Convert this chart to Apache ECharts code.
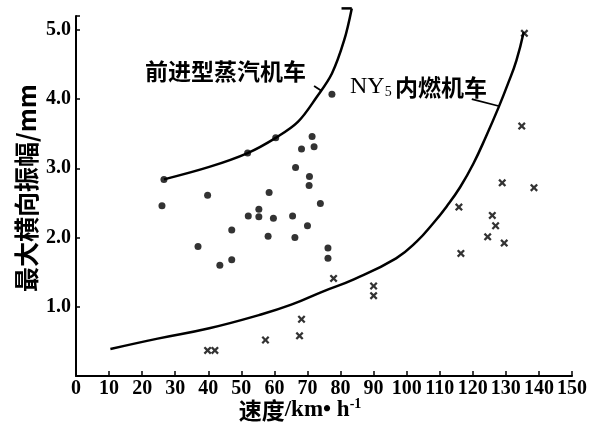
<!DOCTYPE html>
<html><head><meta charset="utf-8">
<script src="https://cdn.jsdelivr.net/npm/echarts@6/dist/echarts.min.js"></script>
<style>html,body{margin:0;padding:0;background:#fff;}#c{width:603px;height:427px;}</style>
</head><body><div id="c"></div>
<script>
// x ticks (km/h) and y ticks (mm)
const xTicks = [0,10,20,30,40,50,60,70,80,90,100,110,120,130,140,150];
const yTicks = [1.0,2.0,3.0,4.0,5.0];

// 前进型蒸汽机车 measured points [speed, amplitude]
const steamPoints = [[26.0,2.46],[39.8,2.61],[58.4,2.65],[66.4,3.01],[68.2,3.28],[71.4,3.46],[72.0,3.31],[70.6,2.88],[70.5,2.75],[73.9,2.49],[77.4,4.07],[36.9,1.87],[43.5,1.60],[47.1,2.11],[47.1,1.68],[52.1,2.31],[55.3,2.41],[55.3,2.30],[59.7,2.28],[58.1,2.02],[65.5,2.31],[66.2,2.00],[70.0,2.17],[76.2,1.85],[76.2,1.70],[26.6,2.84],[51.9,3.22],[60.4,3.44]];
// NY5 内燃机车 measured points
const dieselPoints = [[39.8,0.37],[42.0,0.37],[57.3,0.52],[67.6,0.58],[68.2,0.82],[77.9,1.41],[90.0,1.30],[90.0,1.16],[115.8,2.44],[116.4,1.77],[124.5,2.01],[125.9,2.32],[126.9,2.17],[128.9,2.79],[129.5,1.92],[134.8,3.61],[135.6,4.95],[138.5,2.72]];
// envelope curves
const steamCurve = [[26.6,2.84],[40.3,3.02],[51.9,3.22],[60.4,3.44],[67.1,3.67],[72.8,4.03],[77.4,4.37],[81.1,4.85],[83.4,5.31]];
const steamHook = [[80.3,5.31],[83.4,5.31]];
const dieselCurve = [[10.4,0.39],[24.7,0.54],[40.3,0.69],[55.3,0.88],[65.1,1.03],[74.6,1.22],[84.2,1.40],[96.8,1.70],[103.0,1.94],[108.1,2.21],[112.1,2.45],[116.2,2.73],[120.2,3.07],[124.0,3.46],[127.8,3.88],[130.7,4.23],[133.2,4.56],[135.4,4.97]];
// label leader ticks
const steamLeader = [[72.0,4.19],[74.2,4.12]];
const dieselLeader = [[119.7,4.00],[127.8,3.90]];

const chart = echarts.init(document.getElementById('c'));
const crossPath = 'path://M0,2 L2,0 L5,3 L8,0 L10,2 L7,5 L10,8 L8,10 L5,7 L2,10 L0,8 L3,5 Z';
function curve(data, w, sm){
  return {type:'line', data:data, smooth:sm||0.35, symbol:'none', clip:false, silent:true,
    lineStyle:{color:'#000', width:w||2.5}, z:2};
}
chart.setOption({
  backgroundColor:'#fff',
  animation:false,
  grid:{left:76, right:31, top:16, bottom:51},
  xAxis:{type:'value', min:0, max:150, interval:10,
    axisLine:{lineStyle:{color:'#000', width:2}},
    axisTick:{inside:true, length:5, lineStyle:{color:'#000', width:1.5}},
    splitLine:{show:false},
    axisLabel:{color:'#000', fontFamily:'Liberation Serif', fontWeight:'bold', fontSize:20, margin:3,
      formatter:function(v){return xTicks.indexOf(v)>=0 ? String(v) : '';}}
  },
  yAxis:{type:'value', min:0, max:5.2, interval:1,
    axisLine:{lineStyle:{color:'#000', width:2}},
    axisTick:{inside:true, length:4, lineStyle:{color:'#000', width:1.5}},
    splitLine:{show:false},
    axisLabel:{color:'#000', fontFamily:'Liberation Serif', fontWeight:'bold', fontSize:20, margin:5,
      showMinLabel:false,
      formatter:function(v){return yTicks.indexOf(v)>=0 ? v.toFixed(1) : '';}}
  },
  graphic:[
    {type:'text', left:145, top:60, style:{text:'前进型蒸汽机车', fill:'#000',
      font:'bold 23px "Noto Sans CJK SC"'}},
    {type:'text', left:350, top:75, style:{
      text:'{n|NY}{s|5} {c|内燃机车}',
      rich:{
        n:{fontFamily:'Liberation Serif', fontSize:24, color:'#000'},
        s:{fontFamily:'Liberation Serif', fontSize:14, color:'#000', padding:[10,0,0,0]},
        c:{fontFamily:'Noto Sans CJK SC', fontWeight:'bold', fontSize:23, color:'#000'}
      }}},
    {type:'text', x:26, y:188, rotation:Math.PI/2, style:{
      text:'最大横向振幅/mm', fill:'#000', align:'center', verticalAlign:'middle',
      font:'bold 25px "Noto Sans CJK SC"'}},
    {type:'text', x:300, y:410, style:{
      text:'{c|速度}{l|/km• h}{s|-1}', align:'center', verticalAlign:'middle',
      rich:{
        c:{fontFamily:'Noto Sans CJK SC', fontWeight:'bold', fontSize:23, color:'#000'},
        l:{fontFamily:'Liberation Serif', fontWeight:'bold', fontSize:23, color:'#000'},
        s:{fontFamily:'Liberation Serif', fontWeight:'bold', fontSize:14, color:'#000', padding:[0,0,12,0]}
      }}}
  ],
  series:[
    curve(steamCurve), curve(steamHook), curve(dieselCurve, 2.5, 0.45),
    curve(steamLeader,1.8), curve(dieselLeader,1.8),
    {type:'scatter', data:steamPoints, symbol:'circle', symbolSize:7,
      itemStyle:{color:'#000'}, z:3},
    {type:'scatter', data:dieselPoints, symbol:crossPath, symbolSize:8,
      itemStyle:{color:'#000'}, z:3}
  ]
});
</script></body></html>
